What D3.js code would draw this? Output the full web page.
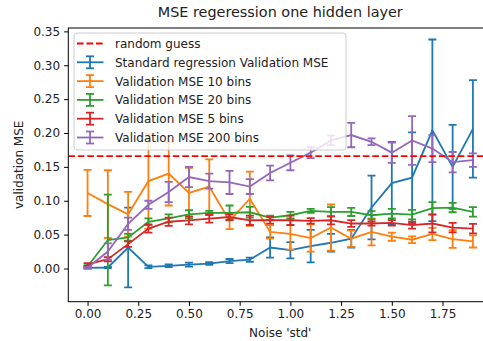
<!DOCTYPE html>
<html>
<head>
<meta charset="utf-8">
<script src="https://cdnjs.cloudflare.com/ajax/libs/d3/7.8.5/d3.min.js"></script>
<style>
  body { margin: 0; background: #fff; }
  svg { display: block; font-family: "DejaVu Sans", sans-serif; }
</style>
</head>
<body>
<div id="graph"></div>
<script>
// noise 'std' on the x axis
var noise = [0, 0.1, 0.2, 0.3, 0.4, 0.5, 0.6, 0.7, 0.8, 0.9, 1.0, 1.1, 1.2, 1.3, 1.4, 1.5, 1.6, 1.7, 1.8, 1.9];
var xTicks = [0, 0.25, 0.5, 0.75, 1.0, 1.25, 1.5, 1.75];
var yTicks = [0, 0.05, 0.1, 0.15, 0.2, 0.25, 0.3, 0.35];

var randomGuess = 0.166;

// standard regression
var stdMean = [0.001, 0.0015, 0.031, 0.0025, 0.004, 0.0058, 0.0073, 0.011, 0.013, 0.031, 0.027, 0.033, 0.038, 0.044, 0.09, 0.126, 0.134, 0.204, 0.15, 0.206];
var stdErr  = [0.001, 0.001, 0.059, 0.002, 0.002, 0.003, 0.002, 0.003, 0.003, 0.015, 0.012, 0.024, 0.013, 0.013, 0.047, 0.061, 0.067, 0.134, 0.062, 0.072];

// 10 bins
var bins10Mean = [0.1115, 0.095, 0.080, 0.129, 0.140, 0.1115, 0.121, 0.070, 0.103, 0.054, 0.051, 0.045, 0.0605, 0.044, 0.054, 0.047, 0.0425, 0.051, 0.0435, 0.040];
var bins10Err  = [0.034, 0.05, 0.033, 0.07, 0.047, 0.037, 0.04, 0.012, 0.04, 0.01, 0.023, 0.02, 0.034, 0.012, 0.02, 0.006, 0.005, 0.009, 0.013, 0.009];

// 20 bins
var bins20Mean = [0.003, 0.042, 0.046, 0.069, 0.074, 0.080, 0.082, 0.082, 0.083, 0.075, 0.0786, 0.085, 0.0835, 0.0835, 0.0786, 0.081, 0.0795, 0.089, 0.090, 0.0835];
var bins20Err  = [0.002, 0.067, 0.005, 0.005, 0.006, 0.006, 0.003, 0.011, 0.008, 0.003, 0.005, 0.003, 0.007, 0.006, 0.006, 0.007, 0.007, 0.009, 0.007, 0.007];

// 5 bins
var bins5Mean = [0.006, 0.0137, 0.036, 0.059, 0.069, 0.071, 0.0737, 0.076, 0.0712, 0.0712, 0.0712, 0.0703, 0.0712, 0.0664, 0.0664, 0.0673, 0.064, 0.0664, 0.0604, 0.059];
var bins5Err  = [0.002, 0.003, 0.004, 0.006, 0.006, 0.006, 0.006, 0.004, 0.007, 0.005, 0.007, 0.004, 0.006, 0.005, 0.003, 0.004, 0.005, 0.013, 0.007, 0.007];

// 200 bins
var bins200Mean = [0.001, 0.025, 0.066, 0.094, 0.113, 0.135, 0.129, 0.127, 0.121, 0.141, 0.156, 0.171, 0.189, 0.197, 0.187, 0.171, 0.189, 0.177, 0.157, 0.16];
var bins200Err  = [0.001, 0.012, 0.009, 0.006, 0.015, 0.015, 0.011, 0.017, 0.011, 0.011, 0.011, 0.008, 0.007, 0.018, 0.005, 0.015, 0.036, 0.02, 0.015, 0.01];

var series = [
  {label: "Standard regression Validation MSE", color: "#1f77b4", mean: stdMean, err: stdErr},
  {label: "Validation MSE 10 bins", color: "#ff7f0e", mean: bins10Mean, err: bins10Err},
  {label: "Validation MSE 20 bins", color: "#2ca02c", mean: bins20Mean, err: bins20Err},
  {label: "Validation MSE 5 bins", color: "#d62728", mean: bins5Mean, err: bins5Err},
  {label: "Validation MSE 200 bins", color: "#9467bd", mean: bins200Mean, err: bins200Err}
];

var W = 483, H = 341;
// plot box (right edge falls outside the picture, like the reference crop)
var pLeft = 68.3, pTop = 28, pRight = 492.2, pBottom = 301.7;

var x = d3.scaleLinear().domain([-0.095, 1.995]).range([pLeft, pRight]);
var y = d3.scaleLinear().domain([-0.049, 0.355]).range([pBottom, pTop]);

var svg = d3.select("#graph").append("svg")
    .attr("width", W)
    .attr("height", H);

svg.append("clipPath").attr("id", "plot")
  .append("rect")
    .attr("x", pLeft).attr("y", pTop)
    .attr("width", pRight - pLeft).attr("height", pBottom - pTop);

var plot = svg.append("g").attr("clip-path", "url(#plot)");

var line = d3.line()
    .x(function(d) { return x(d[0]); })
    .y(function(d) { return y(d[1]); });

var cap = 4;

// error bars + lines
series.forEach(function(s) {
  var pts = noise.map(function(n, i) { return [n, s.mean[i], s.err[i]]; });
  var g = plot.append("g")
      .attr("stroke", s.color)
      .attr("stroke-width", 1.8)
      .attr("fill", "none");

  g.selectAll(".bar").data(pts).enter().append("line")
      .attr("x1", function(d) { return x(d[0]); })
      .attr("x2", function(d) { return x(d[0]); })
      .attr("y1", function(d) { return y(d[1] - d[2]); })
      .attr("y2", function(d) { return y(d[1] + d[2]); });

  g.selectAll(".capTop").data(pts).enter().append("line")
      .attr("x1", function(d) { return x(d[0]) - cap; })
      .attr("x2", function(d) { return x(d[0]) + cap; })
      .attr("y1", function(d) { return y(d[1] + d[2]); })
      .attr("y2", function(d) { return y(d[1] + d[2]); });

  g.selectAll(".capBot").data(pts).enter().append("line")
      .attr("x1", function(d) { return x(d[0]) - cap; })
      .attr("x2", function(d) { return x(d[0]) + cap; })
      .attr("y1", function(d) { return y(d[1] - d[2]); })
      .attr("y2", function(d) { return y(d[1] - d[2]); });

  g.append("path")
      .datum(pts)
      .attr("d", line);
});

// random guess line
plot.append("line")
    .attr("x1", pLeft).attr("x2", pRight)
    .attr("y1", y(randomGuess)).attr("y2", y(randomGuess))
    .attr("stroke", "#ff0000")
    .attr("stroke-width", 1.8)
    .attr("stroke-dasharray", "6.6,2.9");

// axes
var xAxis = svg.append("g")
    .attr("transform", "translate(0," + pBottom + ")")
    .call(d3.axisBottom(x).tickValues(xTicks).tickFormat(d3.format(".2f")).tickSizeInner(4.2).tickSizeOuter(0).tickPadding(4));
var yAxis = svg.append("g")
    .attr("transform", "translate(" + pLeft + ",0)")
    .call(d3.axisLeft(y).tickValues(yTicks).tickFormat(d3.format(".2f")).tickSizeInner(4.2).tickSizeOuter(0).tickPadding(4));

[xAxis, yAxis].forEach(function(a) {
  a.select(".domain").remove();
  a.selectAll("line").attr("stroke", "#000").attr("stroke-width", 1);
  a.selectAll("text").attr("fill", "#222").style("font-size", "12px").style("font-family", "DejaVu Sans");
});

// spines
svg.append("rect")
    .attr("x", pLeft).attr("y", pTop)
    .attr("width", pRight - pLeft).attr("height", pBottom - pTop)
    .attr("fill", "none")
    .attr("stroke", "#000")
    .attr("stroke-width", 1);

// legend
var lg = svg.append("g");
lg.append("rect")
    .attr("x", 74).attr("y", 33)
    .attr("width", 272).attr("height", 117)
    .attr("rx", 3)
    .attr("fill", "#fff")
    .attr("fill-opacity", 0.8)
    .attr("stroke", "#cccccc")
    .attr("stroke-width", 1);

var rowY = function(i) { return 43.5 + i * 18.8; };

lg.append("line")
    .attr("x1", 77).attr("x2", 103.5)
    .attr("y1", rowY(0)).attr("y2", rowY(0))
    .attr("stroke", "#ff0000")
    .attr("stroke-width", 1.8)
    .attr("stroke-dasharray", "6.6,2.9");
lg.append("text")
    .attr("x", 115).attr("y", rowY(0) + 4.4)
    .attr("fill", "#222").style("font-size", "12px")
    .text("random guess");

series.forEach(function(s, i) {
  var yy = rowY(i + 1), cx = 90;
  var h = lg.append("g").attr("stroke", s.color).attr("stroke-width", 1.8);
  h.append("line").attr("x1", 77).attr("x2", 103.5).attr("y1", yy).attr("y2", yy);
  h.append("line").attr("x1", cx).attr("x2", cx).attr("y1", yy - 6).attr("y2", yy + 6);
  h.append("line").attr("x1", cx - cap).attr("x2", cx + cap).attr("y1", yy - 6).attr("y2", yy - 6);
  h.append("line").attr("x1", cx - cap).attr("x2", cx + cap).attr("y1", yy + 6).attr("y2", yy + 6);
  lg.append("text")
      .attr("x", 115).attr("y", yy + 4.4)
      .attr("fill", "#222").style("font-size", "12px")
      .text(s.label);
});

// title and labels
svg.append("text")
    .attr("x", (pLeft + pRight) / 2).attr("y", 17)
    .attr("text-anchor", "middle")
    .attr("fill", "#222").style("font-size", "14.4px")
    .text("MSE regeression one hidden layer");

svg.append("text")
    .attr("x", (pLeft + pRight) / 2).attr("y", 337)
    .attr("text-anchor", "middle")
    .attr("fill", "#222").style("font-size", "12px")
    .text("Noise 'std'");

svg.append("text")
    .attr("transform", "translate(22.5," + ((pTop + pBottom) / 2) + ") rotate(-90)")
    .attr("text-anchor", "middle")
    .attr("fill", "#222").style("font-size", "12px")
    .text("validation MSE");
</script>
</body>
</html>
